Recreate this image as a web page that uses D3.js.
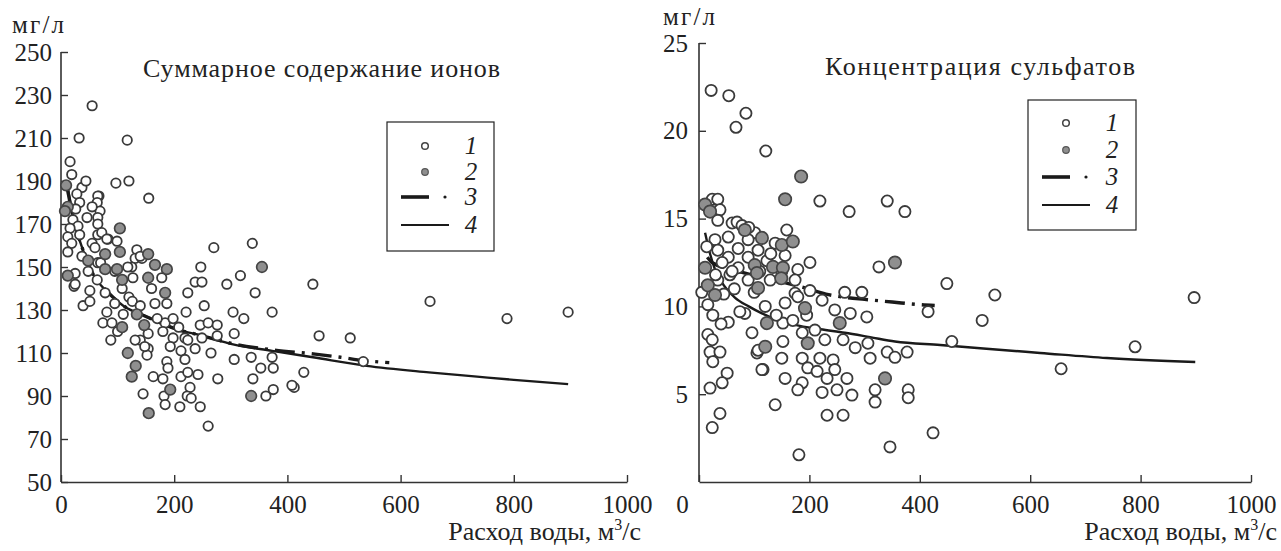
<!DOCTYPE html>
<html><head><meta charset="utf-8">
<script src="https://cdn.jsdelivr.net/npm/d3@7"></script>
<style>
html,body{margin:0;padding:0;background:#fff;}
svg text{font-family:"Liberation Serif","Tinos","Times New Roman","DejaVu Serif",serif !important;fill:#222;}
</style></head>
<body>
<svg id="chart" width="1281" height="551"></svg>
<script>
// ---------- data ----------
const xTicks = [0, 200, 400, 600, 800, 1000];
const leftYTicks = [50, 70, 90, 110, 130, 150, 170, 190, 210, 230, 250];
const rightYTicks = [5, 10, 15, 20, 25];
const legendLabels = ["1", "2", "3", "4"];
const leftTitle = "Суммарное содержание ионов";
const rightTitle = "Концентрация сульфатов";
const yUnit = "мг/л";

// Left panel: total ions, series 1 (open) and 2 (grey)
const leftSeries1 = [
[55,225],[32,210],[117,209],[16,199],[97,189],[120,190],[155,182],[19,193],[37,187],[67,183],[270,159],[338,161],[247,150],[317,146],[445,142],[652,134],[788,126],[896,129],[456,118],[511,117],[429,101],[412,94],[534,106],
[23,141],[51,139],[39,132],[51,134],[78,138],[95,133],[81,129],[74,124],[90,124],[88,116],[166,133],[187,133],[224,138],[237,143],[249,143],[293,142],[343,138],[253,132],[221,129],[304,129],[323,126],[373,129],[246,123],[260,124],[276,123],[184,124],[198,126],[180,120],[198,117],[219,117],[249,117],[276,118],[306,119],[193,113],[212,111],[237,112],[224,116],[154,112],[140,116],[152,109],[219,107],[265,110],[306,107],[336,108],[373,108],[187,106],[189,103],[353,103],[375,103],[408,95],[163,99],[180,98],[212,99],[224,101],[242,100],[277,98],[339,98],[375,93],[362,90],[145,91],[182,90],[184,86],[228,94],[223,90],[230,89],[210,85],[246,85],[260,76],[131,116],[154,119],[148,113],
[28,184],[33,180],[65,183],[64,180],[69,176],[65,173],[55,178],[46,173],[21,172],[30,169],[16,168],[65,170],[33,165],[12,164],[65,165],[83,163],[19,161],[55,161],[99,162],[12,157],[37,155],[60,159],[134,158],[131,154],[65,152],[125,150],[143,154],[25,147],[48,148],[64,144],[127,145],[178,145],[25,142],[72,166],[81,163],[118,150],[140,155],[44,190],[26,177],[108,140],[120,136],[70,152],[95,148],[160,140],[170,126],[208,122],[110,128],[126,134],[100,120],[140,132]
];
const leftSeries2 = [
[9,188],[12,178],[7,176],[12,146],[104,168],[78,156],[104,157],[154,156],[48,153],[78,149],[99,149],[166,151],[187,149],[108,144],[154,145],[355,150],[184,138],[134,128],[147,123],[108,122],[118,110],[132,104],[125,99],[193,93],[155,82],[336,90]
];
// fitted curves
const leftLine4 = [[10,190],[20,175],[40,157],[60,145],[80,139],[110,132],[150,127],[205,121],[250,118],[304,114],[373,111],[445,108],[540,104],[650,101],[735,99],[800,97.5],[896,95.5]];
const leftLine3 = [[10,188],[20,175],[40,157],[60,145],[80,139],[110,132],[150,127],[205,121],[250,118],[304,114.3],[373,111.5],[449,109.5],[494,108],[534,106.5],[580,105.5]];

// Right panel: sulphates
const rightSeries1 = [
[22,22.3],[54,22.0],[67,20.2],[85,21.0],[121,18.85],[219,16.0],[272,15.4],[341,16.0],[373,15.4],[326,12.25],[24,16.1],[34,16.1],[38,15.5],[34,14.9],[60,14.75],[69,14.8],[78,14.6],[101,14.2],[89,13.8],[53,13.95],[29,13.8],[71,13.3],[107,13.2],[138,13.6],[159,14.35],[34,13.2],[14,13.4],[53,12.8],[89,12.8],[123,12.6],[156,12.9],[42,12.5],[71,12.2],[179,12.1],[201,12.5],[34,11.5],[56,11.8],[89,11.5],[129,11.5],[174,11.5],[5,10.8],[174,10.75],[201,10.9],[264,10.8],[295,10.8],
[16,10.1],[25,9.5],[53,9.1],[83,9.6],[96,8.5],[152,9.05],[105,7.35],[116,6.4],[150,7.05],[152,8.0],[187,8.5],[179,10.55],[156,10.2],[223,10.35],[246,9.8],[274,9.6],[304,9.4],[228,8.1],[261,8.1],[283,7.65],[310,7.05],[341,7.4],[355,7.1],[377,7.4],[187,7.05],[219,7.05],[243,6.95],[197,6.5],[246,6.4],[214,6.3],[232,5.9],[268,5.9],[156,5.9],[187,5.65],[179,5.25],[223,5.1],[250,5.25],[277,4.95],[319,5.25],[319,4.55],[379,5.25],[379,4.8],[16,8.4],[24,8.1],[20,7.4],[38,7.4],[25,6.85],[51,6.2],[42,5.65],[20,5.35],[138,4.4],[38,3.9],[24,3.1],[232,3.8],[261,3.8],[181,1.55],[346,2.0],[424,2.8],[415,9.7],[210,8.65],[306,7.9],[449,11.3],[458,8.0],[536,10.65],[513,9.2],[656,6.45],[790,7.7],[897,10.5],[74,9.7],[107,7.5],[114,6.4],[64,11.0],[120,10.0],[140,9.5],[100,10.8],[45,10.7],[60,12.0],[110,12.0],[130,13.0],[90,14.5],[150,12.0],[195,9.5],[170,9.2],[40,9.0],[30,11.8]
];
const rightSeries2 = [
[185,17.4],[156,16.1],[355,12.5],[11,15.8],[20,15.4],[11,12.2],[83,14.35],[114,13.9],[150,13.5],[170,13.7],[101,12.35],[134,12.25],[152,12.2],[16,11.2],[105,11.9],[149,11.6],[29,10.65],[107,11.05],[123,9.05],[120,7.7],[197,7.9],[192,9.9],[255,9.05],[337,5.9]
];
const rightLine4 = [[11,14.2],[20,13.0],[29,12.1],[45,11.2],[65,10.5],[90,10.0],[114,9.6],[140,9.25],[174,8.95],[220,8.7],[264,8.5],[310,8.25],[355,8.0],[437,7.8],[515,7.6],[618,7.35],[739,7.06],[899,6.83]];
const rightLine3 = [[15,12.8],[25,12.47],[60,12.1],[100,11.75],[150,11.4],[192,11.05],[230,10.7],[268,10.5],[300,10.4],[350,10.25],[400,10.1],[427,10.05]];

// ---------- drawing ----------
const svg = d3.select("#chart");
const FS = 25;
const FF = "Liberation Serif, Tinos, Times New Roman, DejaVu Serif, serif";

function panel(cfg) {
  const x = d3.scaleLinear().domain([0, 1000]).range(cfg.xr);
  const y = d3.scaleLinear().domain(cfg.yd).range(cfg.yr);
  const g = svg.append("g").attr("font-family", FF);

  // axes
  const ax = g.append("g").attr("transform", `translate(0,${cfg.yr[0]})`)
    .call(d3.axisBottom(x).tickValues(xTicks).tickFormat(d3.format("d"))
      .tickSizeInner(-7).tickSizeOuter(0).tickPadding(13));
  const ay = g.append("g").attr("transform", `translate(${cfg.xr[0]},0)`)
    .call(d3.axisLeft(y).tickValues(cfg.yTicks).tickFormat(d3.format("d"))
      .tickSizeInner(-7).tickSizeOuter(0).tickPadding(cfg.yPad));
  [ax, ay].forEach(a => {
    a.attr("font-family", FF).attr("font-size", FS);
    a.selectAll("path.domain").attr("stroke", "#333").attr("stroke-width", 1.6);
    a.selectAll(".tick line").attr("stroke", "#333").attr("stroke-width", 1.4);
    a.selectAll("text").attr("font-size", FS).attr("fill", "#222");
  });
  if (cfg.zeroShift) ax.selectAll(".tick text").filter(d => d === 0).attr("x", cfg.zeroShift);
  ay.select("path.domain").attr("d", `M0,${cfg.yr[0]}V${cfg.yr[1]}`);

  // unit label and x title
  g.append("text").attr("x", cfg.unitX).attr("y", cfg.unitY).attr("font-size", 25)
    .attr("textLength", 52).attr("lengthAdjust", "spacing").text(yUnit);
  const xt = g.append("text").attr("x", cfg.xTitleX).attr("y", 540).attr("text-anchor", "end").attr("font-size", 26);
  xt.append("tspan").attr("textLength", 166).attr("lengthAdjust", "spacing").text("Расход воды, м");
  xt.append("tspan").attr("font-size", 16).attr("dy", -10).text("3");
  xt.append("tspan").attr("dy", 10).text("/с");

  g.append("text").attr("x", cfg.titleX).attr("y", cfg.titleY).attr("font-size", 26)
    .attr("textLength", cfg.titleLen).attr("lengthAdjust", "spacing").text(cfg.title);

  // fitted lines
  const line = d3.line().x(d => x(d[0])).y(d => y(d[1])).curve(d3.curveMonotoneX);
  g.append("path").datum(cfg.l4).attr("d", line).attr("fill", "none")
    .attr("stroke", "#1a1a1a").attr("stroke-width", 2.4);
  g.append("path").datum(cfg.l3).attr("d", line).attr("fill", "none")
    .attr("stroke", "#1a1a1a").attr("stroke-width", 3.4).attr("stroke-dasharray", "20,7,3,7");

  // points
  g.append("g").selectAll("circle").data(cfg.s1).join("circle")
    .attr("cx", d => x(d[0])).attr("cy", d => y(d[1])).attr("r", cfg.r)
    .attr("fill", "#fff").attr("stroke", "#3a3a3a").attr("stroke-width", 1.8);
  g.append("g").selectAll("circle").data(cfg.s2).join("circle")
    .attr("cx", d => x(d[0])).attr("cy", d => y(d[1])).attr("r", cfg.r + 0.6)
    .attr("fill", "#8f8f8f").attr("stroke", "#444").attr("stroke-width", 1.7);

  // legend
  const L = cfg.leg;
  g.append("rect").attr("x", L.x).attr("y", L.y).attr("width", L.w).attr("height", L.h)
    .attr("fill", "#fff").attr("stroke", "#222").attr("stroke-width", 1.2);
  const rows = L.rows;
  g.append("circle").attr("cx", L.x + 38).attr("cy", L.y + rows[0]).attr("r", 3.3)
    .attr("fill", "#fff").attr("stroke", "#444").attr("stroke-width", 1.5);
  g.append("circle").attr("cx", L.x + 38).attr("cy", L.y + rows[1]).attr("r", 3.3)
    .attr("fill", "#8f8f8f").attr("stroke", "#555").attr("stroke-width", 1.2);
  g.append("line").attr("x1", L.x + 14).attr("x2", L.x + 42).attr("y1", L.y + rows[2]).attr("y2", L.y + rows[2])
    .attr("stroke", "#1a1a1a").attr("stroke-width", 3.6);
  g.append("circle").attr("cx", L.x + 58).attr("cy", L.y + rows[2]).attr("r", 1.6).attr("fill", "#1a1a1a");
  g.append("line").attr("x1", L.x + 14).attr("x2", L.x + 62).attr("y1", L.y + rows[3]).attr("y2", L.y + rows[3])
    .attr("stroke", "#1a1a1a").attr("stroke-width", 2.2);
  legendLabels.forEach((t, i) => {
    g.append("text").attr("x", L.x + 84).attr("y", L.y + rows[i] + 8).attr("text-anchor", "middle")
      .attr("font-size", 25).attr("font-style", "italic").text(t);
  });
}

panel({
  xr: [61, 627], yd: [50, 250], yr: [482, 52], yTicks: leftYTicks, yPad: 9,
  unitX: 12, unitY: 33, xTitleX: 641, titleX: 143, titleY: 77, titleLen: 357, title: leftTitle,
  s1: leftSeries1, s2: leftSeries2, l3: leftLine3, l4: leftLine4, r: 4.7,
  leg: {x: 387, y: 122, w: 107, h: 129, rows: [24, 50, 75, 103]}
});
panel({
  xr: [699, 1251], yd: [0, 25], yr: [482, 43], yTicks: rightYTicks, yPad: 11, zeroShift: -17,
  unitX: 663, unitY: 25, xTitleX: 1277, titleX: 825, titleY: 75, titleLen: 310, title: rightTitle,
  s1: rightSeries1, s2: rightSeries2, l3: rightLine3, l4: rightLine4, r: 5.6,
  leg: {x: 1028, y: 100, w: 108, h: 130, rows: [23, 50, 77, 105]}
});
</script>
</body></html>
